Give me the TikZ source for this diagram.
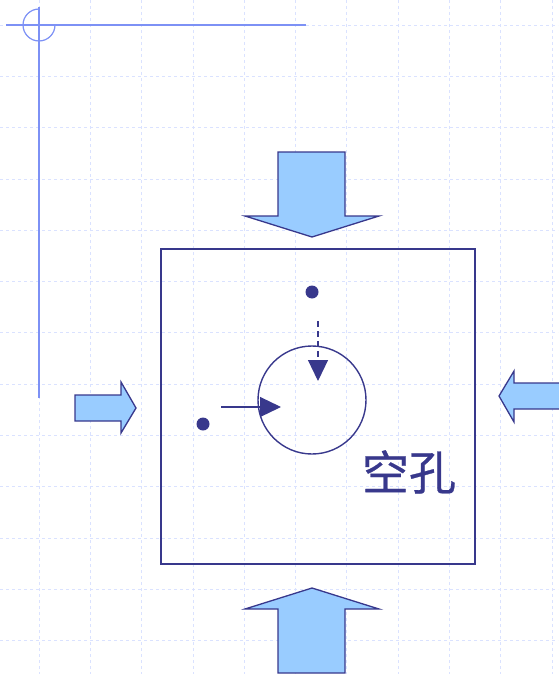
\documentclass[tikz,border=0pt]{standalone}
\usepackage{fontspec}
\newfontfamily\cjkfont[FakeBold=0.6]{Noto Sans CJK SC}
\usetikzlibrary{arrows.meta}
\definecolor{ink}{RGB}{56,56,140}
\definecolor{fillblue}{RGB}{153,204,255}
\definecolor{guide}{RGB}{125,145,245}
\definecolor{gridblue}{RGB}{218,226,255}
\tikzset{
  bigarrow/.style={draw=ink,line width=1.3pt,fill=fillblue,line join=miter},
  dot/.style={circle,fill=ink,inner sep=0pt,minimum size=13pt},
  move/.style={draw=ink,line width=1.2pt,-{Triangle[length=21pt,width=20pt]}}
}
\begin{document}
\begin{tikzpicture}[x=1pt,y=-1pt]
            \useasboundingbox (0,0) rectangle (558,674);
            % grid
            \foreach \k in {0,...,10}
              \draw[gridblue,dashed,line width=0.8pt] (39+51.3*\k,0) -- (39+51.3*\k,674);
            \foreach \k in {0,...,12}
              \draw[gridblue,dashed,line width=0.8pt] (0,25+51.3*\k) -- (558,25+51.3*\k);
            % guide lines
            \draw[guide,line width=1.4pt] (6,25) -- (306,25);
            \draw[guide,line width=1.4pt] (39,7) -- (39,398);
            \draw[guide,line width=1.2pt] (55,25) arc[start angle=0,end angle=270,radius=16];
            % crystal and hole
            \node[draw=ink,line width=1.4pt,minimum width=314pt,minimum height=315pt] at (318,406.5) (crystal) {};
            \node[draw=ink,line width=1.4pt,circle,minimum size=108pt,inner sep=0pt] at (312,400) (hole) {};
            \node[text=ink,font=\cjkfont\fontsize{47}{47}\selectfont] at (409,472) (label) {空孔};
            % atoms
            \node[dot] at (312,292) (atomA) {};
            \node[dot] at (203,424) (atomB) {};
            \coordinate (startA) at (318,321);
            \coordinate (endA) at (318,381);
            \coordinate (startB) at (221,407);
            \coordinate (endB) at (281,407);
            \draw[move,dashed,dash pattern=on 6pt off 4pt] (startA) -- (endA);
            \draw[move] (startB) -- (endB);
            % pressure arrows
            \draw[bigarrow] (278,152) -- (345,152) -- (345,216) -- (379,216) -- (312,237) -- (245,216) -- (278,216) -- cycle;
            \draw[bigarrow] (278,673) -- (278,609) -- (245,609) -- (312,588) -- (379,609) -- (345,609) -- (345,673) -- cycle;
            \draw[bigarrow] (75,395) -- (121,395) -- (121,382) -- (136,408) -- (121,433) -- (121,421) -- (75,421) -- cycle;
            \draw[bigarrow] (566,383) -- (514,383) -- (514,371) -- (499,396) -- (514,422) -- (514,409) -- (566,409) -- cycle;
\end{tikzpicture}
\end{document}
